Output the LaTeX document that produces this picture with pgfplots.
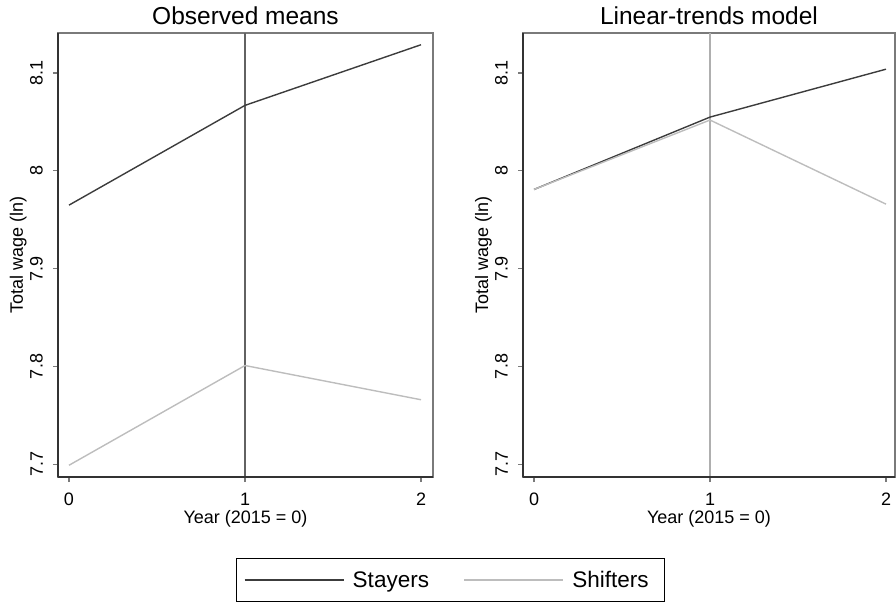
\documentclass[border=0pt]{standalone}
\usepackage{fontspec}
\setmainfont{Liberation Sans}
\usepackage{pgfplots}
\pgfplotsset{compat=1.18}
\definecolor{staycol}{HTML}{3C3C3C}
\definecolor{shiftcol}{HTML}{BDBDBD}
\definecolor{framecol}{HTML}{7A7A7A}
\pgfplotsset{
  panel/.style={
    scale only axis,
    width=375pt, height=444pt,
    ymin=7.687, ymax=8.141,
    xtick={0,1,2}, ytick={7.7,7.8,7.9,8,8.1},
    yticklabels={7.7,7.8,7.9,8,8.1},
    xticklabels={0,1,2},
    tick pos=left,
    tick align=outside,
    major tick length=5pt,
    every tick/.style={draw=framecol, line width=1.2pt},
    axis line style={draw=framecol, line width=1.3pt},
    tick label style={font=\fontsize{18}{20}\selectfont},
    /pgf/number format/assume math mode=true,
    yticklabel style={rotate=90, anchor=south, inner sep=0pt, yshift=10pt},
    xticklabel style={anchor=north, inner sep=0pt, yshift=-11pt},
    label style={font=\fontsize{18}{20}\selectfont},
    xlabel={Year (2015 = 0)},
    ylabel={Total wage (ln)},
    xlabel style={at={(axis description cs:0.5,0)}, anchor=base, yshift=-46pt, inner sep=0pt},
    ylabel style={at={(axis description cs:0,0.5)}, anchor=base, inner sep=0pt},
    title style={font=\fontsize{24.5}{26}\selectfont, anchor=base, yshift=2.5pt},
    clip=false,
  },
}
\begin{document}
\begin{tikzpicture}
\useasboundingbox (0pt,0pt) rectangle (896pt,603pt);
% Left panel
\begin{axis}[panel, at={(58pt,126pt)}, anchor=south west,
  xmin=-0.0625, xmax=2.068,
  title={Observed means},
  ylabel style={yshift=35pt},
  legend columns=2,
  legend style={at={(1.0467,-0.232)}, anchor=center, draw=black, line width=1pt,
    font=\fontsize{22.5}{24}\selectfont, inner xsep=7pt, inner ysep=4pt,
    /tikz/every even column/.append style={column sep=26pt},
    nodes={inner xsep=8.5pt, inner ysep=8.5pt}},
  legend image code/.code={\path (0pt,0pt) -- (99pt,0pt);\draw[#1, line width=1.4pt] (4pt,0pt) -- (92pt,0pt);},
]
\addplot[draw=framecol!80!black, line width=1.3pt, forget plot] coordinates {(1,7.687) (1,8.141)};
\addplot[staycol, line width=1.4pt] coordinates {(0,7.965) (1,8.067) (2,8.129)};
\addplot[shiftcol, line width=1.4pt] coordinates {(0,7.699) (1,7.801) (2,7.766)};
\legend{Stayers, Shifters}
\draw[black!80, line width=2pt] (axis cs:-0.0625,7.687) -- (axis cs:-0.0625,8.141);
\draw[black!80, line width=2pt] (axis cs:-0.0625,7.687) -- (axis cs:2.068,7.687);
\end{axis}
% Right panel
\begin{axis}[panel, at={(523pt,126pt)}, anchor=south west,
  width=372pt,
  xmin=-0.0625, xmax=2.051,
  title={Linear-trends model},
  ylabel style={yshift=35pt},
]
\addplot[draw=framecol!60, line width=1.5pt, forget plot] coordinates {(1,7.687) (1,8.141)};
\addplot[staycol, line width=1.4pt] coordinates {(0,7.981) (1,8.055) (2,8.104)};
\addplot[shiftcol, line width=1.4pt] coordinates {(0,7.981) (1,8.052) (2,7.966)};
\draw[black!80, line width=2pt] (axis cs:-0.0625,7.687) -- (axis cs:-0.0625,8.141);
\draw[black!80, line width=2pt] (axis cs:-0.0625,7.687) -- (axis cs:2.051,7.687);
\end{axis}
\end{tikzpicture}
\end{document}
